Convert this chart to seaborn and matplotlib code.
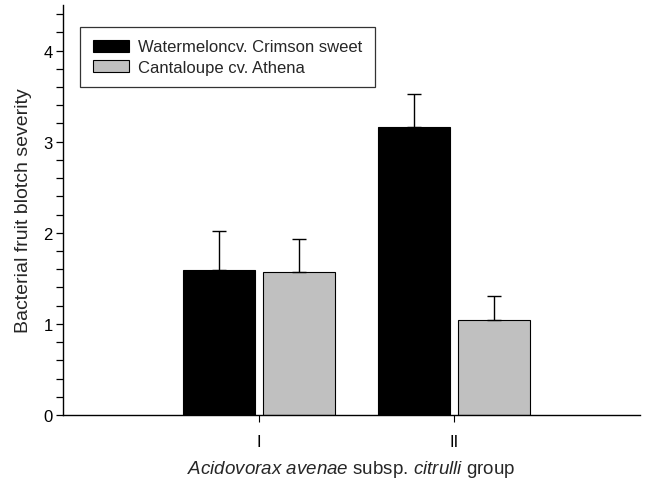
import matplotlib
matplotlib.use("Agg")
import matplotlib.pyplot as plt
import seaborn as sns
import pandas as pd
import numpy as np

groups = ["I", "II"]
series = ["Watermeloncv. Crimson sweet", "Cantaloupe cv. Athena"]
watermelon = [1.59, 3.16]
watermelon_err = [0.43, 0.36]
cantaloupe = [1.57, 1.04]
cantaloupe_err = [0.36, 0.27]
colors = ["#000000", "#c0c0c0"]

sns.set_theme(style="white")
plt.rcParams["font.family"] = ["Liberation Sans", "DejaVu Sans"]
plt.rcParams["mathtext.fontset"] = "custom"
plt.rcParams["mathtext.rm"] = "Liberation Sans"
plt.rcParams["mathtext.it"] = "Liberation Sans:italic"

df = pd.DataFrame({
    "group": groups * 2,
    "series": [series[0]] * 2 + [series[1]] * 2,
    "value": watermelon + cantaloupe,
})
errs = {series[0]: watermelon_err, series[1]: cantaloupe_err}

fig = plt.figure(figsize=(6.5, 4.85), dpi=100)
ax = fig.add_axes([63/650, 1 - 416/485, (640-63)/650, (416-6)/485])

sns.barplot(data=df, x="group", y="value", hue="series", order=groups,
            hue_order=series, palette=colors, width=0.818, gap=0.1,
            edgecolor="black", linewidth=0.8, ax=ax, errorbar=None)

# error bars (upward only)
for container, s in zip(ax.containers, series):
    xs = [p.get_x() + p.get_width() / 2 for p in container]
    hs = [p.get_height() for p in container]
    ax.errorbar(xs, hs, yerr=[np.zeros(len(hs)), errs[s]], fmt="none",
                ecolor="black", elinewidth=1.0, capsize=4.7, capthick=1.0,
                zorder=1)

ax.set_xlim(-1.0, 1.95)
ax.set_ylim(0, 4.5)
ax.set_yticks([0, 1, 2, 3, 4])
ax.set_yticks([v for v in np.arange(0.2, 4.5, 0.2) if abs(v - round(v)) > 1e-6],
              minor=True)
ax.tick_params(axis="y", which="both", direction="out", left=True,
               length=5, width=0.9, labelsize=12, pad=2.5, colors="black")
ax.tick_params(axis="x", direction="out", bottom=True, length=5, width=0.8,
               labelsize=12, pad=9, colors="black")

for side in ["top", "right"]:
    ax.spines[side].set_visible(False)
for side in ["left", "bottom"]:
    ax.spines[side].set_color("black")
    ax.spines[side].set_linewidth(1.0)

ax.set_ylabel("Bacterial fruit blotch severity", fontsize=14)
ax.yaxis.set_label_coords(-0.0537, 0.5)
ax.set_xlabel(r"$\mathit{Acidovorax\ avenae}$ subsp. $\mathit{citrulli}$ group",
              fontsize=13.5)
ax.xaxis.set_label_coords(0.5, -0.142)
ax.xaxis.label.set_va("baseline")

leg = ax.legend(loc="upper left", bbox_to_anchor=(17/577, 1 - 22/410),
                frameon=True, fancybox=False, fontsize=12,
                handlelength=2.2, handleheight=0.72, handletextpad=0.55,
                borderpad=0.75, labelspacing=0.32, borderaxespad=0,
                title=None)
leg.get_frame().set_edgecolor("black")
leg.get_frame().set_linewidth(0.9)

fig.savefig("out.png", dpi=100)
